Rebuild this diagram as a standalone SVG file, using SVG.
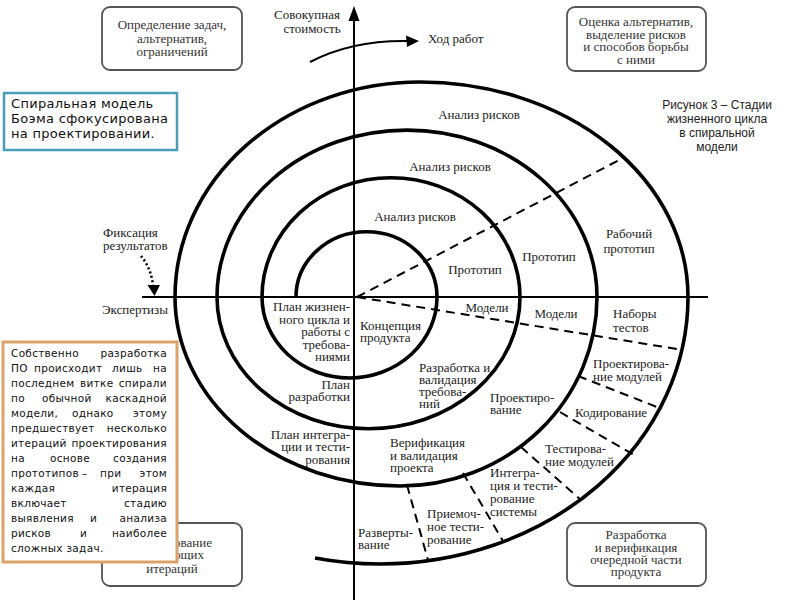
<svg xmlns="http://www.w3.org/2000/svg" width="800" height="600" viewBox="0 0 800 600">
<style>
.lbl{font-family:"Liberation Serif","Times New Roman",serif;font-size:13px;fill:#222}
.box{fill:#fff;stroke:#555;stroke-width:1.8}
.bt{font-family:"Liberation Serif","Times New Roman",serif;font-size:13px;fill:#333;text-anchor:middle}
.sp{fill:none;stroke:#000;stroke-width:3.6}
.ax{fill:none;stroke:#000;stroke-width:2}
.dash{fill:none;stroke:#000;stroke-width:2;stroke-dasharray:9 6}
.ot{font-family:"DejaVu Sans",sans-serif;font-size:10.5px;fill:#111;letter-spacing:0.3px}
.oe{text-anchor:end}
.bl{font-family:"DejaVu Sans",sans-serif;font-size:13px;fill:#111;letter-spacing:0.3px}
.cap{font-family:"Liberation Sans",Arial,sans-serif;font-size:12px;fill:#222;text-anchor:middle}
</style>
<defs>
<clipPath id="clipPlan"><rect x="178" y="520" width="70" height="40"/></clipPath>
</defs>
<rect width="800" height="600" fill="#fff"/>

<g id="connectors">
<line class="ax" x1="354" y1="18" x2="354" y2="600"/>
<path d="M354,6 L348.5,21 L359.5,21 Z" fill="#000"/>
<line class="ax" x1="142" y1="297" x2="708" y2="297"/>
<path class="ax" d="M310,62 Q352,40 408,41" stroke-width="2.2"/>
<path d="M419,41 L406,35.5 L407,47 Z" fill="#000"/>
<path d="M141,256 Q151,268 153,285" fill="none" stroke="#000" stroke-width="2.6" stroke-dasharray="2 2.5"/>
<path d="M147.5,285 L160,285 L154.5,296 Z" fill="#000"/>
<path class="sp" d="M296,297 A70.5,65.2 0 0 1 437,297 A87.5,81 0 0 1 262,297 A129,119.3 0 0 1 520,297 A151.5,131.7 0 0 1 217,297 A190,166.9 0 0 1 597,297 A197,189 0 0 1 400,486 A225,189 0 0 1 175,297 A245,215 0 0 1 420,82 A268,215 0 0 1 688,297 A308,267 0 0 1 380,564 A308,267 0 0 1 315,558"/>
<line class="dash" x1="357" y1="297" x2="623" y2="158"/>
<line class="dash" x1="357" y1="297" x2="683" y2="350"/>
<line class="dash" x1="578" y1="376" x2="662" y2="409"/>
<line class="dash" x1="560" y1="412" x2="634" y2="455"/>
<line class="dash" x1="521" y1="447" x2="581" y2="500"/>
<line class="dash" x1="463" y1="473" x2="503" y2="541"/>
<line class="dash" x1="407" y1="485" x2="428" y2="560"/>
</g>

<g id="axis-labels">
<text class="lbl" x="307" y="19" text-anchor="middle">Совокупная</text>
<text class="lbl" x="312" y="33" text-anchor="middle">стоимость</text>
<text class="lbl" x="428" y="43">Ход работ</text>
<text class="lbl" x="103" y="237">Фиксация</text>
<text class="lbl" x="103" y="250">результатов</text>
<text class="lbl" x="102" y="314">Экспертизы</text>
</g>

<g id="spiral-labels">
<text class="lbl" x="479" y="119" text-anchor="middle">Анализ рисков</text>
<text class="lbl" x="450" y="171" text-anchor="middle">Анализ рисков</text>
<text class="lbl" x="415" y="221" text-anchor="middle">Анализ рисков</text>
<text class="lbl" x="475" y="274" text-anchor="middle">Прототип</text>
<text class="lbl" x="549" y="261" text-anchor="middle">Прототип</text>
<text class="lbl" x="629" y="238" text-anchor="middle">Рабочий</text>
<text class="lbl" x="629" y="253" text-anchor="middle">прототип</text>
<text class="lbl" x="487" y="312" text-anchor="middle">Модели</text>
<text class="lbl" x="556" y="318" text-anchor="middle">Модели</text>
<text class="lbl" x="613" y="318">Наборы</text>
<text class="lbl" x="613" y="332">тестов</text>
<text class="lbl" x="593" y="368">Проектирова-</text>
<text class="lbl" x="593" y="381">ние модулей</text>
<text class="lbl" x="575" y="417">Кодирование</text>
<text class="lbl" x="545" y="453">Тестирова-</text>
<text class="lbl" x="545" y="466">ние модулей</text>
<text class="lbl" x="490" y="402">Проектиро-</text>
<text class="lbl" x="490" y="414">вание</text>
<text class="lbl" x="419" y="372">Разработка и</text>
<text class="lbl" x="419" y="384">валидация</text>
<text class="lbl" x="419" y="396">требова-</text>
<text class="lbl" x="419" y="408">ний</text>
<text class="lbl" x="360" y="330">Концепция</text>
<text class="lbl" x="360" y="342">продукта</text>
<text class="lbl" x="350" y="311" text-anchor="end">План жизнен-</text>
<text class="lbl" x="350" y="324" text-anchor="end">ного цикла и</text>
<text class="lbl" x="350" y="336" text-anchor="end">работы с</text>
<text class="lbl" x="350" y="349" text-anchor="end">требова-</text>
<text class="lbl" x="350" y="361" text-anchor="end">ниями</text>
<text class="lbl" x="350" y="389" text-anchor="end">План</text>
<text class="lbl" x="350" y="401" text-anchor="end">разработки</text>
<text class="lbl" x="350" y="439" text-anchor="end">План интегра-</text>
<text class="lbl" x="350" y="451" text-anchor="end">ции и тести-</text>
<text class="lbl" x="350" y="464" text-anchor="end">рования</text>
<text class="lbl" x="390" y="447">Верификация</text>
<text class="lbl" x="390" y="460">и валидация</text>
<text class="lbl" x="390" y="472">проекта</text>
<text class="lbl" x="490" y="477">Интегра-</text>
<text class="lbl" x="490" y="490">ция и тести-</text>
<text class="lbl" x="490" y="503">рование</text>
<text class="lbl" x="490" y="516">системы</text>
<text class="lbl" x="427" y="518">Приемоч-</text>
<text class="lbl" x="427" y="531">ное тести-</text>
<text class="lbl" x="427" y="544">рование</text>
<text class="lbl" x="358" y="537">Разверты-</text>
<text class="lbl" x="358" y="549">вание</text>
</g>

<g id="box-goals">
<rect class="box" x="102" y="7" width="140" height="63" rx="8"/>
<text class="bt" x="172" y="29">Определение задач,</text>
<text class="bt" x="172" y="43">альтернатив,</text>
<text class="bt" x="172" y="56">ограничений</text>
</g>

<g id="box-risks">
<rect class="box" x="567" y="7" width="139" height="64" rx="8"/>
<text class="bt" x="636" y="26">Оценка альтернатив,</text>
<text class="bt" x="636" y="38.5">выделение рисков</text>
<text class="bt" x="636" y="51">и способов борьбы</text>
<text class="bt" x="636" y="63.5">с ними</text>
</g>

<g id="box-plan">
<rect class="box" x="102" y="523" width="140" height="63" rx="8"/>
<g clip-path="url(#clipPlan)">
<text class="bt" x="172" y="547">Планирование</text>
<text class="bt" x="172" y="559">следующих</text>
</g>
<text class="bt" x="172" y="573">итераций</text>
</g>

<g id="box-dev">
<rect class="box" x="567" y="523" width="139" height="63" rx="8"/>
<text class="bt" x="636" y="539">Разработка</text>
<text class="bt" x="636" y="551.5">и верификация</text>
<text class="bt" x="636" y="564">очередной части</text>
<text class="bt" x="636" y="576">продукта</text>
</g>

<g id="caption">
<text class="cap" x="717" y="109">Рисунок 3 – Стадии</text>
<text class="cap" x="717" y="123">жизненного цикла</text>
<text class="cap" x="717" y="137">в спиральной</text>
<text class="cap" x="717" y="151">модели</text>
</g>

<g id="note-blue">
<rect x="4" y="93" width="173" height="57" fill="#fff" stroke="#4a9fb8" stroke-width="2.5"/>
<text class="bl" x="11" y="108">Спиральная модель</text>
<text class="bl" x="11" y="123">Боэма сфокусирована</text>
<text class="bl" x="11" y="138">на проектировании.</text>
</g>

<g id="note-orange">
<rect x="3" y="342" width="174" height="220" fill="#fff" stroke="#d9a36b" stroke-width="3"/>
<text class="ot" x="11" y="357">Собственно</text><text class="ot oe" x="167" y="357">разработка</text>
<text class="ot" x="11" y="372">ПО</text><text class="ot" x="34" y="372">происходит</text><text class="ot" x="112" y="372">лишь</text><text class="ot oe" x="167" y="372">на</text>
<text class="ot" x="11" y="387">последнем</text><text class="ot" x="80" y="387">витке</text><text class="ot oe" x="167" y="387">спирали</text>
<text class="ot" x="11" y="402">по</text><text class="ot" x="42" y="402">обычной</text><text class="ot oe" x="167" y="402">каскадной</text>
<text class="ot" x="11" y="417">модели,</text><text class="ot" x="72" y="417">однако</text><text class="ot oe" x="167" y="417">этому</text>
<text class="ot" x="11" y="432">предшествует</text><text class="ot oe" x="167" y="432">несколько</text>
<text class="ot" x="11" y="447">итераций</text><text class="ot oe" x="167" y="447">проектирования</text>
<text class="ot" x="11" y="462">на</text><text class="ot" x="50" y="462">основе</text><text class="ot oe" x="167" y="462">создания</text>
<text class="ot" x="11" y="477">прототипов</text><text class="ot" x="82" y="477">–</text><text class="ot" x="100" y="477">при</text><text class="ot oe" x="167" y="477">этом</text>
<text class="ot" x="11" y="492">каждая</text><text class="ot oe" x="167" y="492">итерация</text>
<text class="ot" x="11" y="507">включает</text><text class="ot oe" x="167" y="507">стадию</text>
<text class="ot" x="11" y="522">выявления</text><text class="ot" x="90" y="522">и</text><text class="ot oe" x="167" y="522">анализа</text>
<text class="ot" x="11" y="537">рисков</text><text class="ot" x="80" y="537">и</text><text class="ot oe" x="167" y="537">наиболее</text>
<text class="ot" x="11" y="552">сложных задач.</text>
</g>
</svg>
